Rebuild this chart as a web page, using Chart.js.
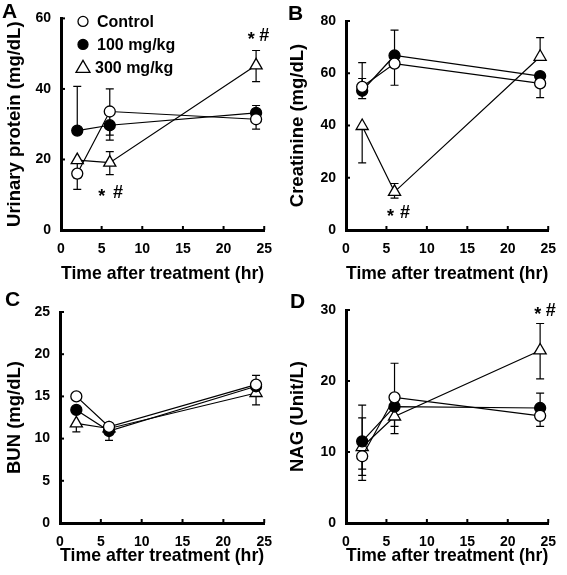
<!DOCTYPE html>
<html lang="en">
<head>
<meta charset="UTF-8">
<title>Renal markers after treatment</title>
<style>
  body { margin: 0; background: #fff; }
  #wrap { position: relative; width: 567px; height: 575px; }
  canvas { position: absolute; }
</style>
</head>
<body>
<div id="wrap">
  <canvas id="cA" style="left:0;top:0" width="283" height="285"></canvas>
  <canvas id="cB" style="left:283px;top:0" width="284" height="285"></canvas>
  <canvas id="cC" style="left:0;top:285px" width="283" height="290"></canvas>
  <canvas id="cD" style="left:283px;top:285px" width="284" height="290"></canvas>
</div>

<script src="https://cdn.jsdelivr.net/npm/chart.js"></script>
<script>
// ---- data ----
const times = [2, 6, 24]
const groups = ['Control', '100 mg/kg', '300 mg/kg']

// rows: Control, 100 mg/kg, 300 mg/kg ; null = no bar drawn on that side
const proteinMean = [[16, 33.6, 31.4], [28.2, 29.7, 33.2], [19.8, 19.1, 46.7]]
const proteinLow  = [[11.5, 26.9, 28.6], [null, 25.5, null], [14.8, 15.7, 42.1]]
const proteinHigh = [[null, 40, null], [40.7, null, 35.3], [null, 22.2, 50.9]]
const proteinMarks = [[5, 10.5, '*'], [7, 10.5, '#'], [23.4, 55, '*'], [25, 55, '#']]

const creatMean = [[54.8, 63.7, 56.1], [53.3, 66.8, 58.9], [39.8, 14.6, 66.3]]
const creatLow  = [[null, 55.4, 50.7], [50.3, null, null], [25.7, 12.2, null]]
const creatHigh = [[64.1, null, null], [58, 76.5, null], [null, 17.8, 73.6]]
const creatMarks = [[5.5, 6.5, '*'], [7.3, 6.5, '#']]

const bunMean = [[15.0, 11.4, 16.4], [13.4, 10.9, 16.2], [11.8, 11.2, 15.4]]
const bunLow  = [[null, null, null], [null, 9.8, null], [10.8, null, 14.0]]
const bunHigh = [[null, null, 17.5], [null, 11.9, null], [null, null, null]]
const bunMarks = []

const nagMean = [[9.4, 17.7, 15.1], [11.5, 16.4, 16.2], [10.7, 15.0, 24.3]]
const nagLow  = [[6.7, null, 13.6], [6.0, 13.6, null], [7.6, 12.6, 20.3]]
const nagHigh = [[null, 22.5, null], [16.6, null, 18.3], [14.8, null, 28.1]]
const nagMarks = [[23.7, 29.8, '*'], [25.3, 29.8, '#']]

const FONT = '"Liberation Sans", Arial, Helvetica, sans-serif'

const styles = [
    { pointStyle: 'circle', fill: '#fff', radius: 5.5 },
    { pointStyle: 'circle', fill: '#000', radius: 5.5 },
    { pointStyle: 'triangle', fill: '#fff', radius: 7 }
]

// error bars, drawn behind the markers
const errorBars = {
    id: 'errorBars',
    beforeDatasetsDraw(chart, args, opts) {
        const { ctx, scales: { x, y } } = chart
        ctx.save()
        ctx.strokeStyle = '#000'
        ctx.lineWidth = 1.2
        opts.mean.forEach((row, i) => {
            row.forEach((m, j) => {
                const px = x.getPixelForValue(times[j])
                const pm = y.getPixelForValue(m)
                ;[opts.low[i][j], opts.high[i][j]].forEach(v => {
                    if (v == null) return
                    const pv = y.getPixelForValue(v)
                    ctx.beginPath()
                    ctx.moveTo(px, pm); ctx.lineTo(px, pv)
                    ctx.moveTo(px - 4, pv); ctx.lineTo(px + 4, pv)
                    ctx.stroke()
                })
            })
        })
        ctx.restore()
    }
}

// inward tick marks, star / hash marks, panel letter, legend
const extras = {
    id: 'extras',
    afterDraw(chart, args, opts) {
        const { ctx, chartArea: ca, scales: { x, y } } = chart
        ctx.save()
        ctx.strokeStyle = '#000'
        ctx.lineWidth = 2
        x.ticks.forEach(t => {
            if (t.value === 0) return
            const px = x.getPixelForValue(t.value)
            ctx.beginPath(); ctx.moveTo(px, ca.bottom); ctx.lineTo(px, ca.bottom - 4); ctx.stroke()
        })
        y.ticks.forEach(t => {
            if (t.value === 0) return
            const py = y.getPixelForValue(t.value)
            ctx.beginPath(); ctx.moveTo(ca.left, py); ctx.lineTo(ca.left + 4, py); ctx.stroke()
        })

        ctx.fillStyle = '#000'
        ctx.textAlign = 'center'
        ctx.textBaseline = 'middle'
        ctx.font = 'bold 18px ' + FONT
        opts.marks.forEach(([t, v, s]) => {
            const dy = s === '*' ? 4 : 0
            ctx.fillText(s, x.getPixelForValue(t), y.getPixelForValue(v) + dy)
        })

        ctx.textAlign = 'left'
        ctx.textBaseline = 'top'
        ctx.font = 'bold 21px ' + FONT
        ctx.fillText(opts.letter, opts.lx, opts.ly)

        if (opts.legend) {
            ctx.font = 'bold 16px ' + FONT
            ctx.textBaseline = 'middle'
            ctx.lineWidth = 1.3
            groups.forEach((g, i) => {
                const cx = ca.left + 22, cy = ca.top + 3 + i * 23
                ctx.fillStyle = styles[i].fill
                ctx.beginPath()
                if (styles[i].pointStyle === 'circle') {
                    ctx.arc(cx, cy, 5, 0, Math.PI * 2)
                } else {
                    ctx.moveTo(cx, cy - 7); ctx.lineTo(cx + 7, cy + 5); ctx.lineTo(cx - 7, cy + 5); ctx.closePath()
                }
                ctx.fill(); ctx.stroke()
                ctx.fillStyle = '#000'
                ctx.fillText(g, ca.left + (i === 2 ? 34 : 36), cy + 1)
            })
        }
        ctx.restore()
    }
}

function makePanel(id, o) {
    const canvas = document.getElementById(id)
    const w = canvas.width, h = canvas.height
    const datasets = o.mean.map((row, i) => ({
        label: groups[i],
        data: times.map((t, j) => ({ x: t, y: row[j] })),
        borderColor: '#000',
        borderWidth: 1.2,
        pointStyle: styles[i].pointStyle,
        pointRadius: styles[i].radius,
        pointBackgroundColor: styles[i].fill,
        pointBorderColor: '#000',
        pointBorderWidth: 1.3,
        tension: 0,
        clip: false
    }))
    return new Chart(canvas, {
        type: 'line',
        data: { datasets },
        options: {
            responsive: false,
            animation: false,
            layout: { padding: { top: o.area.top, right: w - o.area.right, left: 0, bottom: 0 } },
            scales: {
                x: {
                    type: 'linear', min: 0, max: 25,
                    ticks: { stepSize: 5, padding: 11, color: '#000', font: { family: FONT, size: 14, weight: 'bold' } },
                    grid: { display: false, drawTicks: false },
                    border: { display: true, color: '#000', width: 3 },
                    title: { display: true, text: 'Time after treatment (hr)', color: '#000',
                             font: { family: FONT, size: 18.5, weight: 'bold' }, padding: { top: 0, bottom: o.titleBottom } },
                    afterFit(s) { s.height = h - o.area.bottom }
                },
                y: {
                    min: 0, max: o.yMax,
                    ticks: { stepSize: o.yStep, padding: 10, color: '#000', font: { family: FONT, size: 14, weight: 'bold' } },
                    grid: { display: false, drawTicks: false },
                    border: { display: true, color: '#000', width: 3 },
                    title: { display: true, text: o.yTitle, color: '#000',
                             font: { family: FONT, size: 18.5, weight: 'bold' }, padding: { top: 4, bottom: 0 } },
                    afterFit(s) { s.width = o.area.left }
                }
            },
            plugins: {
                legend: { display: false },
                tooltip: { enabled: false },
                errorBars: { mean: o.mean, low: o.low, high: o.high },
                extras: { marks: o.marks, letter: o.letter, lx: o.lx, ly: o.ly, legend: !!o.legend }
            }
        },
        plugins: [errorBars, extras]
    })
}

makePanel('cA', { letter: 'A', lx: 2, ly: 2, legend: true, yTitle: 'Urinary protein (mg/dL)', yMax: 60, yStep: 20,
    mean: proteinMean, low: proteinLow, high: proteinHigh, marks: proteinMarks,
    area: { left: 61, right: 272, top: 16, bottom: 230 }, titleBottom: 0 })
makePanel('cB', { letter: 'B', lx: 5, ly: 4, yTitle: 'Creatinine (mg/dL)', yMax: 80, yStep: 20,
    mean: creatMean, low: creatLow, high: creatHigh, marks: creatMarks,
    area: { left: 63, right: 272, top: 21, bottom: 230 }, titleBottom: 0 })
makePanel('cC', { letter: 'C', lx: 5, ly: 5, yTitle: 'BUN (mg/dL)', yMax: 25, yStep: 5,
    mean: bunMean, low: bunLow, high: bunHigh, marks: bunMarks,
    area: { left: 60, right: 270, top: 27, bottom: 238 }, titleBottom: 8 })
makePanel('cD', { letter: 'D', lx: 7, ly: 7, yTitle: 'NAG (Unit/L)', yMax: 30, yStep: 10,
    mean: nagMean, low: nagLow, high: nagHigh, marks: nagMarks,
    area: { left: 63, right: 273, top: 25, bottom: 238 }, titleBottom: 8 })
</script>
</body>
</html>
